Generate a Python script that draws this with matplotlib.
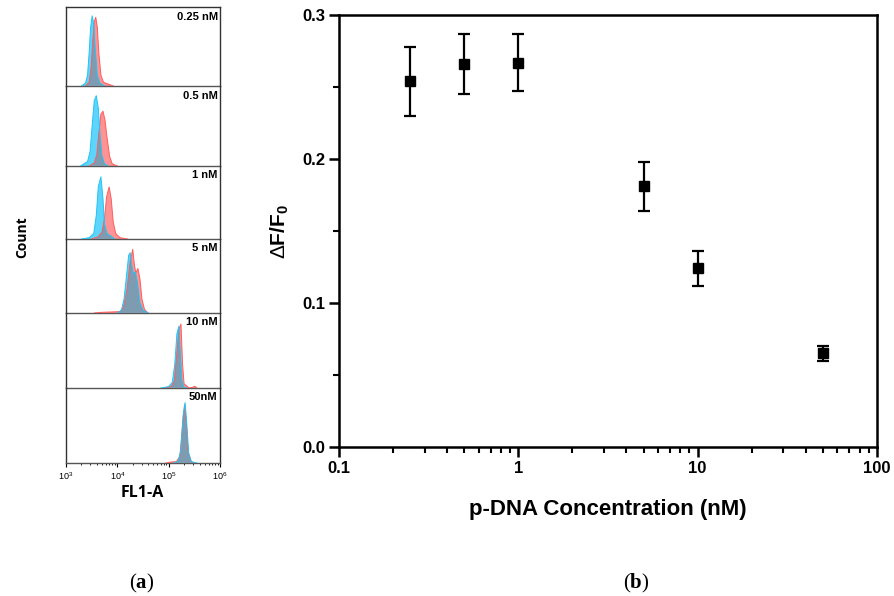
import numpy as np
import matplotlib
matplotlib.use("Agg")
import matplotlib.pyplot as plt
from matplotlib.patches import Polygon
from matplotlib.ticker import (LogLocator, MultipleLocator, NullFormatter,
                               FixedLocator, FixedFormatter, FormatStrFormatter)

plt.rcParams['font.family'] = ['Liberation Sans', 'DejaVu Sans']
plt.rcParams['mathtext.fontset'] = 'custom'
plt.rcParams['mathtext.rm'] = 'Liberation Sans'
plt.rcParams['mathtext.sf'] = 'Liberation Sans:bold'
plt.rcParams['mathtext.bf'] = 'Liberation Serif:bold'

# --- panel (a): flow cytometry overlays, (log10 FL1-A, relative count) ---
panel_labels = ["0.25 nM", "0.5 nM", "1 nM", "5 nM", "10 nM", "50nM"]

blue_curves = [
    [(3.30, 0), (3.38, 0.04), (3.42, 0.15), (3.45, 0.45), (3.48, 0.8), (3.51, 0.96),
     (3.54, 0.85), (3.57, 0.5), (3.61, 0.15), (3.66, 0.04), (3.75, 0)],
    [(3.28, 0), (3.35, 0.03), (3.42, 0.06), (3.47, 0.2), (3.51, 0.55), (3.55, 0.88),
     (3.59, 0.95), (3.63, 0.78), (3.66, 0.45), (3.70, 0.14), (3.75, 0.03), (3.82, 0)],
    [(3.30, 0), (3.45, 0.02), (3.54, 0.08), (3.59, 0.35), (3.63, 0.78), (3.68, 0.92),
     (3.72, 0.6), (3.75, 0.22), (3.80, 0.08), (3.88, 0.04), (3.95, 0)],
    [(4.00, 0), (4.08, 0.04), (4.13, 0.2), (4.18, 0.55), (4.22, 0.84), (4.25, 0.88),
     (4.28, 0.7), (4.31, 0.58), (4.35, 0.6), (4.39, 0.45), (4.44, 0.15), (4.50, 0.04), (4.60, 0)],
    [(4.85, 0), (5.00, 0.02), (5.07, 0.08), (5.12, 0.35), (5.16, 0.78), (5.20, 0.89),
     (5.23, 0.45), (5.26, 0.1), (5.30, 0.01), (5.35, 0)],
    [(5.10, 0), (5.19, 0.03), (5.24, 0.2), (5.28, 0.68), (5.32, 0.87), (5.35, 0.6),
     (5.39, 0.14), (5.44, 0.02), (5.55, 0)],
]

red_curves = [
    [(3.38, 0), (3.45, 0.05), (3.49, 0.25), (3.52, 0.6), (3.55, 0.88), (3.58, 0.94),
     (3.61, 0.8), (3.64, 0.45), (3.68, 0.15), (3.73, 0.05), (3.85, 0.02), (3.92, 0)],
    [(3.45, 0), (3.55, 0.04), (3.60, 0.15), (3.64, 0.45), (3.68, 0.7), (3.72, 0.74),
     (3.76, 0.62), (3.80, 0.38), (3.85, 0.13), (3.90, 0.03), (4.00, 0)],
    [(3.50, 0), (3.62, 0.03), (3.70, 0.1), (3.75, 0.3), (3.79, 0.62), (3.84, 0.77),
     (3.88, 0.6), (3.92, 0.25), (3.97, 0.08), (4.05, 0.02), (4.20, 0)],
    [(3.55, 0), (3.70, 0.01), (4.05, 0.02), (4.12, 0.08), (4.19, 0.35), (4.25, 0.75),
     (4.30, 0.93), (4.33, 0.72), (4.36, 0.58), (4.40, 0.65), (4.44, 0.5), (4.48, 0.2),
     (4.53, 0.05), (4.60, 0)],
    [(4.90, 0), (5.05, 0.02), (5.11, 0.1), (5.16, 0.5), (5.20, 0.85), (5.24, 0.92),
     (5.27, 0.35), (5.30, 0.06), (5.40, 0), (5.47, 0.01), (5.51, 0.025), (5.55, 0)],
    [(4.95, 0), (5.05, 0.015), (5.15, 0.02), (5.22, 0.1), (5.27, 0.55), (5.31, 0.84),
     (5.34, 0.62), (5.38, 0.16), (5.44, 0.02), (5.50, 0)],
]

# --- panel (b): quenching ratio vs concentration ---
conc = [0.25, 0.5, 1, 5, 10, 50]
ratio = [0.254, 0.266, 0.267, 0.181, 0.124, 0.065]
ratio_err = [0.024, 0.021, 0.020, 0.017, 0.012, 0.005]

W, H = 894, 596
fig = plt.figure(figsize=(W / 100, H / 100), dpi=100)


def px_axes(x0, y0, x1, y1):
    return fig.add_axes([x0 / W, 1 - y1 / H, (x1 - x0) / W, (y1 - y0) / H])


# --- left stack ---
bounds = [7, 86, 166, 239, 313, 388, 463]
blue_fill, blue_edge = '#5dd4fb', '#22c4f4'
red_fill, red_edge = '#ff9393', '#ff5c5c'
over_fill = '#7d9bb1'

for i, label in enumerate(panel_labels):
    ax = px_axes(66, bounds[i], 220, bounds[i + 1])
    ax.patch.set_visible(False)
    ax.set_xscale('log')
    ax.set_xlim(1e3, 1e6)
    ax.set_ylim(0, 1.08)
    ax.set_yticks([])
    for s in ax.spines.values():
        s.set_linewidth(1.0)
        s.set_color('#333333')
    ax.spines['bottom'].set_color('#555555')
    if i > 0:
        ax.spines['top'].set_visible(False)

    bx = [10 ** p[0] for p in blue_curves[i]]
    by = [p[1] for p in blue_curves[i]]
    rx = [10 ** p[0] for p in red_curves[i]]
    ry = [p[1] for p in red_curves[i]]

    ax.fill(rx, ry, color=red_fill, lw=0, zorder=1)
    ax.fill(bx, by, color=blue_fill, lw=0, zorder=2)
    blue_poly = Polygon(list(zip(bx, by)), closed=True, transform=ax.transData)
    over = ax.fill(rx, ry, color=over_fill, lw=0, zorder=3)[0]
    over.set_clip_path(blue_poly)
    ax.plot(rx, ry, color=red_edge, lw=0.7, zorder=4)
    ax.plot(bx, by, color=blue_edge, lw=0.7, zorder=5)

    ax.text(0.985, 0.94, label, transform=ax.transAxes, ha='right', va='top',
            fontsize=8, fontweight='bold')

    if i == len(panel_labels) - 1:
        ax.xaxis.set_major_locator(FixedLocator([1e3, 1e4, 1e5, 1e6]))
        ax.xaxis.set_major_formatter(FixedFormatter(['10$^3$', '10$^4$', '10$^5$', '10$^6$']))
        ax.xaxis.set_minor_locator(LogLocator(base=10, subs=np.arange(2, 10)))
        ax.xaxis.set_minor_formatter(NullFormatter())
        ax.tick_params(axis='x', which='major', length=3, width=0.8, labelsize=6.5, pad=2)
        ax.tick_params(axis='x', which='minor', length=1.5, width=0.6)
    else:
        ax.set_xticks([])
        ax.set_xticks([], minor=True)

fig.text(142 / W, 1 - 493 / H, 'FL1-A', ha='center', va='center',
         fontsize=11.5, fontweight='bold', family=['Open Sans', 'DejaVu Sans'])
fig.text(22 / W, 1 - 237 / H, 'Count', ha='center', va='center', rotation=90,
         fontsize=10, fontweight='bold', family=['Open Sans', 'DejaVu Sans'])

# --- right plot ---
ax2 = px_axes(339, 15, 877, 447)
ax2.errorbar(conc, ratio, yerr=ratio_err, fmt='s', color='black', ms=7,
             ecolor='black', elinewidth=1.6, capsize=4.5, capthick=1.6)
ax2.set_xscale('log')
ax2.set_xlim(0.1, 100)
ax2.set_ylim(0, 0.3)
ax2.yaxis.set_major_locator(MultipleLocator(0.1))
ax2.yaxis.set_minor_locator(MultipleLocator(0.05))
ax2.yaxis.set_major_formatter(FormatStrFormatter('%.1f'))
ax2.xaxis.set_major_locator(FixedLocator([0.1, 1, 10, 100]))
ax2.xaxis.set_major_formatter(FixedFormatter(['0.1', '1', '10', '100']))
ax2.xaxis.set_minor_locator(LogLocator(base=10, subs=np.arange(2, 10)))
ax2.xaxis.set_minor_formatter(NullFormatter())
for s in ax2.spines.values():
    s.set_linewidth(1.8)
ax2.tick_params(which='major', direction='out', length=7, width=1.8, labelsize=12, pad=3)
ax2.tick_params(which='minor', direction='out', length=4, width=1.5)
ax2.tick_params(top=False, right=False, which='both')
for lab in ax2.get_xticklabels() + ax2.get_yticklabels():
    lab.set_fontweight('bold')
ax2.set_xlabel('p-DNA Concentration (nM)', fontsize=16, fontweight='bold', labelpad=17)
ax2.set_ylabel(r'$\mathrm{\Delta}$F/F$_{\mathsf{0}}$', fontsize=15, fontweight='bold', labelpad=8)

# panel tags
fig.text(142 / W, 1 - 583 / H, r'($\mathbf{a}$)', ha='center', va='center',
         fontsize=15, family='Liberation Serif')
fig.text(636 / W, 1 - 583 / H, r'($\mathbf{b}$)', ha='center', va='center',
         fontsize=15, family='Liberation Serif')

fig.savefig('out.png', dpi=100)
